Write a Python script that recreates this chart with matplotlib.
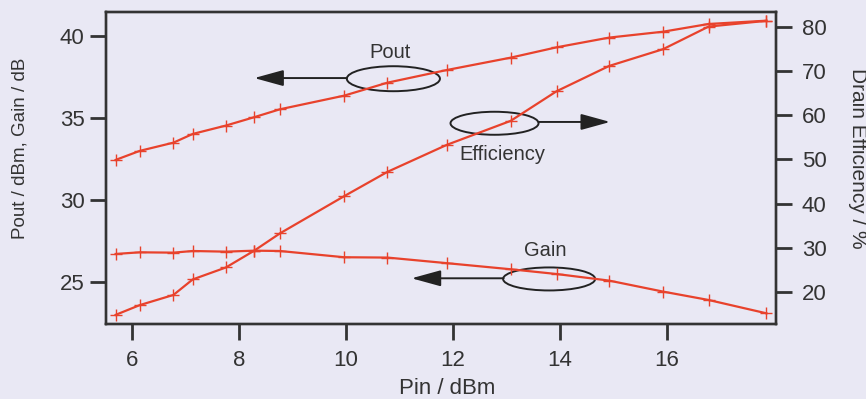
import matplotlib
matplotlib.use('Agg')
import matplotlib.pyplot as plt
from matplotlib.patches import Ellipse

plt.rcParams['font.family'] = ['Liberation Sans', 'DejaVu Sans']

# input power sweep (dBm)
pin = [5.7, 6.15, 6.78, 7.14, 7.76, 8.29, 8.77, 9.97, 10.78, 11.89,
       13.08, 13.94, 14.92, 15.93, 16.78, 17.86]
# output power (dBm)
pout = [32.44, 32.99, 33.49, 34.02, 34.53, 35.04, 35.52, 36.35, 37.14, 37.91,
        38.66, 39.29, 39.88, 40.24, 40.71, 40.91]
# gain (dB)
gain = [26.72, 26.82, 26.80, 26.90, 26.86, 26.92, 26.90, 26.52, 26.50, 26.16,
        25.79, 25.50, 25.10, 24.43, 23.92, 23.11]
# drain efficiency (%)
eff = [14.9, 17.1, 19.4, 22.9, 25.6, 29.4, 33.3, 41.7, 47.2, 53.3,
       58.7, 65.4, 71.1, 74.9, 80.0, 81.3]

bg = '#e9e8f4'
red = '#e8422c'
ink = '#333333'

fig = plt.figure(figsize=(8.66, 3.99), dpi=100, facecolor=bg)
ax = fig.add_axes([0.1224, 0.188, 0.7737, 0.782], facecolor=bg)
ax2 = ax.twinx()

ax.plot(pin, pout, color=red, lw=1.6, marker='+', ms=9, mew=1.0)
ax.plot(pin, gain, color=red, lw=1.6, marker='+', ms=9, mew=1.0)
ax2.plot(pin, eff, color=red, lw=1.6, marker='+', ms=9, mew=1.0)

ax.set_xlim(5.52, 18.04)
ax.set_ylim(22.46, 41.44)
ax2.set_ylim(12.84, 83.3)
ax.set_xticks([6, 8, 10, 12, 14, 16])
ax.set_yticks([25, 30, 35, 40])
ax2.set_yticks([20, 30, 40, 50, 60, 70, 80])

for a in (ax, ax2):
    for s in a.spines.values():
        s.set_color(ink)
        s.set_linewidth(1.7)
    a.tick_params(direction='out', length=11.5, width=2, color=ink,
                  labelcolor=ink, labelsize=16)
ax.tick_params(axis='x', pad=7)
ax.tick_params(axis='y', pad=4)
ax2.tick_params(axis='y', pad=7)

# axis labels
fig.text(447 / 866, 1 - 389 / 399, 'Pin / dBm', fontsize=16, color=ink,
         ha='center', va='center')
fig.text(20.5 / 866, 1 - 148 / 399, 'Pout / dBm, Gain / dB', rotation=90,
         fontsize=13.5, color=ink, ha='center', va='center')
fig.text(857 / 866, 1 - 158 / 399, 'Drain Efficiency / %', rotation=-90,
         fontsize=15, color=ink, ha='center', va='center')

# ellipse + arrow annotations (left axis data coords)
arrow = dict(arrowstyle='-|>,head_length=0.4,head_width=0.11', mutation_scale=45,
             color='#222222', lw=1.4, shrinkA=0, shrinkB=0)

ax.add_patch(Ellipse((10.89, 37.38), 1.74, 1.52, fill=False, ec='#222222', lw=1.4))
ax.annotate('', xy=(8.29, 37.42), xytext=(10.02, 37.42), arrowprops=arrow)
ax.text(10.83, 39.0, 'Pout', fontsize=14.5, color=ink, ha='center', va='center')

ax.add_patch(Ellipse((12.78, 34.67), 1.645, 1.40, fill=False, ec='#222222', lw=1.4))
ax.annotate('', xy=(14.94, 34.75), xytext=(13.60, 34.75), arrowprops=arrow)
ax.text(12.92, 32.74, 'Efficiency', fontsize=14.5, color=ink, ha='center', va='center')

ax.add_patch(Ellipse((13.80, 25.20), 1.72, 1.40, fill=False, ec='#222222', lw=1.4))
ax.annotate('', xy=(11.23, 25.24), xytext=(12.95, 25.24), arrowprops=arrow)
ax.text(13.73, 26.92, 'Gain', fontsize=14.5, color=ink, ha='center', va='center')

fig.savefig('out.png', dpi=100, facecolor=bg)
